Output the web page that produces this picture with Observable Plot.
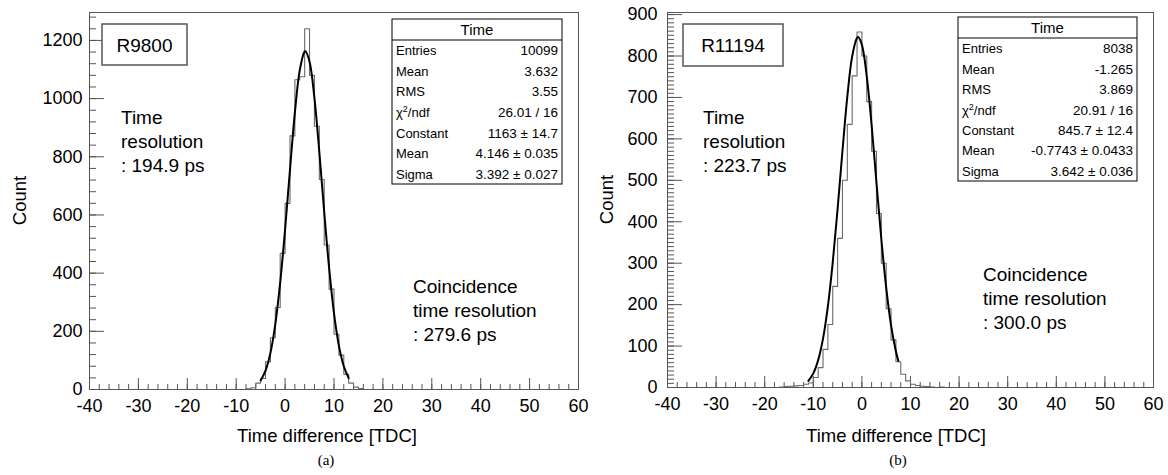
<!DOCTYPE html>
<html><head><meta charset="utf-8">
<script src="https://cdn.jsdelivr.net/npm/d3@7"></script>
<script src="https://cdn.jsdelivr.net/npm/@observablehq/plot@0.6"></script>
<style>
body{margin:0;background:#fff;font-family:"Liberation Sans",Arial,sans-serif;}
#wrap{display:flex;width:1168px;}
.panel{width:584px;position:relative;}
.panel svg{overflow:visible;}
.cap{font-family:"Liberation Serif","Times New Roman",serif;font-size:15px;position:relative;height:25px;}
.cap span{position:absolute;top:2px;transform:translateX(-50%);}
</style></head><body><div id="wrap"></div>
<script>
// ---------- data ----------
const xMajorTicks = [-40,-30,-20,-10,0,10,20,30,40,50,60];
const yMajorTicksA = [0,200,400,600,800,1000,1200];
const yMajorTicksB = [0,100,200,300,400,500,600,700,800,900];

// Panel (a) R9800 : histogram (bin left edge, width 1) and fit curve
const binStartA = [-8,-7,-6,-5,-4,-3,-2,-1,0,1,2,3,4,5,6,7,8,9,10,11,12,13,14,15];
const countsA   = [2,6,22,38,95,178,282,468,640,872,1065,1075,1240,1080,905,722,497,345,190,118,52,22,8,3];
const fitXA = [-5,-4,-3,-2,-1,0,1,2,3,4,4.15,5,6,7,8,9,10,11,12,13];
const fitYA = [31,65,126,225,368,551,756,952,1098,1162,1163,1127,1002,816,610,418,262,151,80,39];

// Panel (b) R11194
const binStartB = [-17,-16,-15,-14,-13,-12,-11,-10,-9,-8,-7,-6,-5,-4,-3,-2,-1,0,1,2,3,4,5,6,7,8,9,10,11,12,13,14,15,16];
const countsB   = [1,2,3,4,5,8,11,24,48,92,152,244,360,500,635,752,858,800,690,570,420,300,190,115,62,32,16,8,5,3,2,1,0,1];
const fitXB = [-11,-10,-9,-8,-7,-6,-5,-4,-3,-2,-1,-0.77,0,1,2,3,4,5,6,7,7.5];
const fitYB = [16,34,66,118,196,302,431,571,702,799,844,846,827,751,633,494,358,241,150,87,64];

const statsA = [["Entries","10099"],["Mean","3.632"],["RMS","3.55"],["chi","26.01 / 16"],["Constant","1163 ± 14.7"],["Mean","4.146 ± 0.035"],["Sigma","3.392 ± 0.027"]];
const statsB = [["Entries","8038"],["Mean","-1.265"],["RMS","3.869"],["chi","20.91 / 16"],["Constant","845.7 ± 12.4"],["Mean","-0.7743 ± 0.0433"],["Sigma","3.642 ± 0.036"]];

// ---------- drawing ----------
function outline(starts, counts){
  const pts=[{x:-40,y:0}];
  starts.forEach((s,i)=>pts.push({x:s,y:counts[i]}));
  const last=starts[starts.length-1]+1;
  pts.push({x:last,y:0},{x:60,y:0});
  return pts;
}
function panel(cfg){
  const W=584,H=450;
  const pw=W-cfg.ml-cfg.mr, ph=H-cfg.mt-cfg.mb;
  const fmt=d=>String(d);
  const plot=Plot.plot({
    width:W,height:H,marginTop:cfg.mt,marginBottom:cfg.mb,marginLeft:cfg.ml,marginRight:cfg.mr,
    style:{fontFamily:"Liberation Sans, Arial, sans-serif",fontSize:"18px",color:"#000",overflow:"visible"},
    x:{domain:[-40,60]},
    y:{domain:[0,cfg.yMax]},
    marks:[
      Plot.tickY(cfg.yMinor,{y:d=>d,insetRight:pw-7,stroke:"#555"}),
      Plot.tickY(cfg.yMajor,{y:d=>d,insetRight:pw-15,stroke:"#555"}),
      Plot.tickX(d3.range(-40,60.01,2),{x:d=>d,insetTop:ph-5,stroke:"#555"}),
      Plot.tickX(xMajorTicks,{x:d=>d,insetTop:ph-11,stroke:"#555"}),
      Plot.axisX(xMajorTicks,{tickSize:0,tickPadding:10,tickFormat:fmt,label:null,fontSize:18}),
      Plot.axisY(cfg.yMajor,{tickSize:0,tickPadding:cfg.yPad,tickFormat:fmt,label:null,fontSize:18}),
      Plot.line(outline(cfg.bins,cfg.counts),{x:"x",y:"y",curve:"step-after",stroke:"#6a6a6a",strokeWidth:1.1}),
      Plot.line(cfg.fitX.map((x,i)=>({x,y:cfg.fitY[i]})),{x:"x",y:"y",curve:"catmull-rom",stroke:"#000",strokeWidth:2}),
      Plot.frame({stroke:"#555"})
    ]
  });
  const svg=d3.select(plot);
  const F="Liberation Sans, Arial, sans-serif";
  const T=()=>svg.append("text").attr("font-family",F).attr("text-anchor","start").attr("fill","#000");
  // axis titles
  T().attr("x",cfg.titleX).attr("y",442).attr("text-anchor","middle").attr("font-size",18.5).text("Time difference [TDC]");
  T().attr("transform",`translate(${cfg.countX},${cfg.mt+ph/2}) rotate(-90)`).attr("text-anchor","middle").attr("font-size",18.5).text("Count");
  // name box
  const nb=cfg.nameBox;
  svg.append("rect").attr("x",nb[0]).attr("y",nb[1]).attr("width",nb[2]).attr("height",nb[3]).attr("fill","white").attr("stroke","#555").attr("stroke-width",1.5);
  T().attr("x",nb[0]+nb[2]/2).attr("y",nb[1]+nb[3]/2+7).attr("text-anchor","middle").attr("font-size",19).text(cfg.name);
  // annotations
  cfg.notes.forEach(n=>{
    const t=T().attr("font-size",19);
    n.lines.forEach((l,i)=>t.append("tspan").attr("x",n.x).attr("y",n.y+i*24).text(l));
  });
  // stats box
  const sb=cfg.statBox, rowH=(sb[3]-21)/7;
  svg.append("rect").attr("x",sb[0]).attr("y",sb[1]).attr("width",sb[2]).attr("height",sb[3]).attr("fill","white").attr("stroke","#000").attr("stroke-width",1);
  svg.append("line").attr("x1",sb[0]).attr("x2",sb[0]+sb[2]).attr("y1",sb[1]+21).attr("y2",sb[1]+21).attr("stroke","#000");
  T().attr("x",sb[0]+sb[2]/2).attr("y",sb[1]+16).attr("text-anchor","middle").attr("font-size",15).text("Time");
  cfg.stats.forEach((r,i)=>{
    const y=sb[1]+21+rowH*(i+0.5)+5;
    const t=T().attr("x",sb[0]+4).attr("y",y).attr("font-size",13);
    if(r[0]==="chi"){t.append("tspan").text("χ");t.append("tspan").attr("dy",-5).attr("font-size",9).text("2");t.append("tspan").attr("dy",5).text("/ndf");}
    else t.text(r[0]);
    T().attr("x",sb[0]+sb[2]-4).attr("y",y).attr("text-anchor","end").attr("font-size",13.5).text(r[1]);
  });
  return plot;
}
const wrap=document.getElementById("wrap");
const cfgs=[
 {ml:89,mr:6,mt:12,mb:61,yMax:1296,yPad:7,yMajor:yMajorTicksA,yMinor:d3.range(0,1281,40),bins:binStartA,counts:countsA,fitX:fitXA,fitY:fitYA,
  countX:26,titleX:327,capX:326,name:"R9800",nameBox:[102,24,85,41],
  notes:[{x:121,y:124,lines:["Time","resolution",": 194.9 ps"]},{x:413,y:293,lines:["Coincidence","time resolution",": 279.6 ps"]}],
  statBox:[392,19,170,165],stats:statsA,cap:"(a)"},
 {ml:83,mr:15,mt:12,mb:63,yMax:905,yPad:10,yMajor:yMajorTicksB,yMinor:d3.range(0,901,10),bins:binStartB,counts:countsB,fitX:fitXB,fitY:fitYB,
  countX:29,titleX:312,capX:314,name:"R11194",nameBox:[99,24,100,42],
  notes:[{x:119,y:124,lines:["Time","resolution",": 223.7 ps"]},{x:399,y:281,lines:["Coincidence","time resolution",": 300.0 ps"]}],
  statBox:[374,17,179,164],stats:statsB,cap:"(b)"}
];
cfgs.forEach(c=>{
  const d=document.createElement("div");d.className="panel";
  d.appendChild(panel(c));
  const cap=document.createElement("div");cap.className="cap";
  const s=document.createElement("span");s.style.left=c.capX+"px";s.textContent=c.cap;cap.appendChild(s);
  d.appendChild(cap);
  wrap.appendChild(d);
});
</script></body></html>
